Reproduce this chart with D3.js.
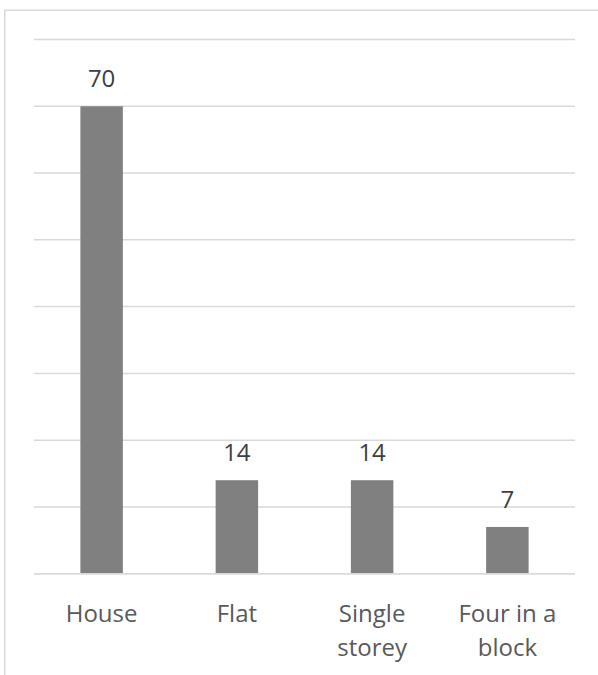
<!DOCTYPE html>
<html>
<head>
<meta charset="utf-8">
<script src="https://cdn.jsdelivr.net/npm/d3@7"></script>
<style>
  html, body { margin: 0; padding: 0; background: #ffffff; }
  svg { display: block; }
</style>
</head>
<body>
<svg id="chart" width="598" height="675"></svg>
<script>
const categories = ["House", "Flat", "Single storey", "Four in a block"];
const categoryLines = [["House"], ["Flat"], ["Single", "storey"], ["Four in a", "block"]];
const values = [70, 14, 14, 7];
const yTicks = [0, 10, 20, 30, 40, 50, 60, 70, 80];

const svg = d3.select("#chart");
const W = 598, H = 675;
const margin = { left: 34, right: 23, top: 39.5, bottom: 101.3 };

const x = d3.scaleBand()
  .domain(categories)
  .range([margin.left, W - margin.right])
  .paddingInner(0.686)
  .paddingOuter(0.343);

const y = d3.scaleLinear()
  .domain([0, 80])
  .range([H - margin.bottom, margin.top]);

// chart frame (partially off-canvas)
svg.append("rect")
  .attr("x", 4.75).attr("y", 10.25)
  .attr("width", 700).attr("height", 700)
  .attr("fill", "none")
  .attr("stroke", "#d9d9d9")
  .attr("stroke-width", 1.5);

// gridlines
svg.append("g")
  .selectAll("line")
  .data(yTicks)
  .join("line")
  .attr("x1", margin.left)
  .attr("x2", W - margin.right)
  .attr("y1", d => y(d))
  .attr("y2", d => y(d))
  .attr("stroke", "#d9d9d9")
  .attr("stroke-width", 1.5);

// bars
svg.append("g")
  .selectAll("rect")
  .data(values)
  .join("rect")
  .attr("x", (d, i) => x(categories[i]))
  .attr("width", x.bandwidth())
  .attr("y", d => y(d))
  .attr("height", d => y(0) - y(d))
  .attr("fill", "#808080");

// redraw baseline over bars
svg.append("line")
  .attr("x1", margin.left).attr("x2", W - margin.right)
  .attr("y1", y(0)).attr("y2", y(0))
  .attr("stroke", "#d9d9d9").attr("stroke-width", 1.5);

// data labels
svg.append("g")
  .selectAll("text")
  .data(values)
  .join("text")
  .attr("x", (d, i) => x(categories[i]) + x.bandwidth() / 2)
  .attr("y", d => y(d) - 19)
  .attr("text-anchor", "middle")
  .attr("font-family", "'Open Sans', sans-serif")
  .attr("font-size", 24)
  .attr("fill", "#404040")
  .text(d => d);

// category labels
const lab = svg.append("g")
  .selectAll("text")
  .data(categories)
  .join("text")
  .attr("x", d => x(d) + x.bandwidth() / 2)
  .attr("y", y(0) + 48)
  .attr("text-anchor", "middle")
  .attr("font-family", "'Open Sans', sans-serif")
  .attr("font-size", 24)
  .attr("fill", "#595959");

lab.each(function(d, i) {
  const t = d3.select(this);
  categoryLines[i].forEach((ln, j) => {
    t.append("tspan")
      .attr("x", x(d) + x.bandwidth() / 2)
      .attr("dy", j === 0 ? 0 : 34)
      .text(ln);
  });
});
</script>
</body>
</html>
